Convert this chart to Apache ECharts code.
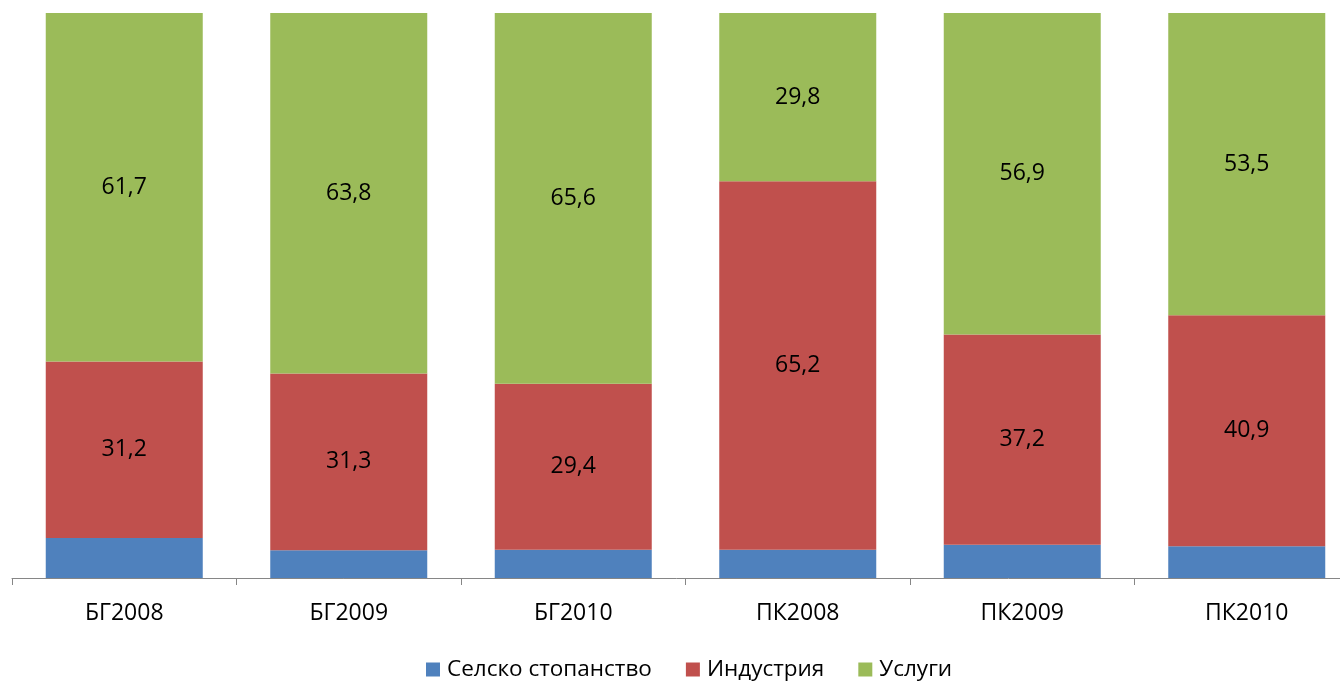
<!DOCTYPE html>
<html>
<head>
<meta charset="utf-8">
<script src="https://cdn.jsdelivr.net/npm/echarts@6/dist/echarts.min.js"></script>
<style>
  html, body { margin: 0; padding: 0; background: #fff; }
  #chart { width: 1340px; height: 681px; }
</style>
</head>
<body>
<div id="chart"></div>
<script>
// категории и дялове (%)
const categories = ["БГ2008", "БГ2009", "БГ2010", "ПК2008", "ПК2009", "ПК2010"];
const agriculture = [7.1, 4.9, 5.0, 5.0, 5.9, 5.6];
const industry = [31.2, 31.3, 29.4, 65.2, 37.2, 40.9];
const services = [61.7, 63.8, 65.6, 29.8, 56.9, 53.5];

const FONT = "Open Sans";

function labelFmt(p) {
  return p.value.toFixed(1).replace(".", ",");
}

const chart = echarts.init(document.getElementById("chart"));

chart.setOption({
  animation: false,
  textStyle: { fontFamily: FONT },
  grid: {
    left: 12, top: 13, bottom: 103, width: 1347,
    containLabel: false, outerBoundsMode: "none"
  },
  legend: {
    top: 653,
    left: 421,
    itemWidth: 14,
    itemHeight: 14,
    itemGap: 34,
    icon: "rect",
    textStyle: { fontSize: 22.5, color: "#000", fontFamily: FONT, padding: [0, 0, 0, 2] }
  },
  xAxis: {
    type: "category",
    data: categories,
    axisLine: { lineStyle: { color: "#868686", width: 1 } },
    axisTick: { show: true, length: 7, interval: 0, lineStyle: { color: "#868686" } },
    axisLabel: { color: "#000", fontSize: 23, margin: 24, fontFamily: FONT }
  },
  yAxis: {
    type: "value",
    min: 0,
    max: 100,
    show: false
  },
  series: [
    {
      name: "Селско стопанство",
      type: "bar",
      stack: "total",
      barWidth: 157,
      data: agriculture,
      itemStyle: { color: "#4F81BD" }
    },
    {
      name: "Индустрия",
      type: "bar",
      stack: "total",
      data: industry,
      itemStyle: { color: "#C0504D" },
      label: { show: true, position: "inside", color: "#000", fontSize: 23, formatter: labelFmt }
    },
    {
      name: "Услуги",
      type: "bar",
      stack: "total",
      data: services,
      itemStyle: { color: "#9BBB59" },
      label: { show: true, position: "inside", color: "#000", fontSize: 23, formatter: labelFmt }
    }
  ]
});
</script>
</body>
</html>
